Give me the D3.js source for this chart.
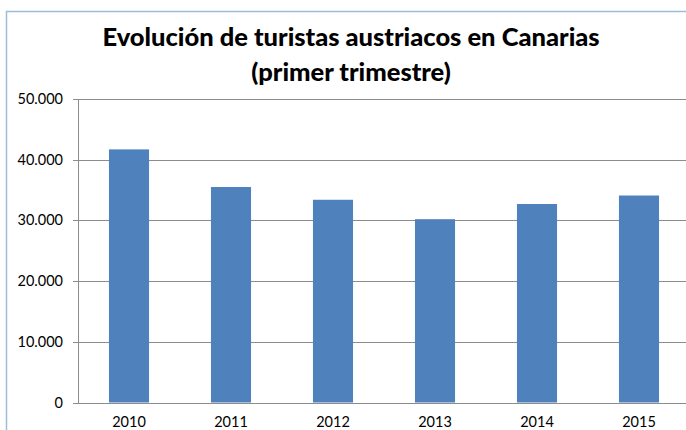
<!DOCTYPE html>
<html>
<head>
<meta charset="utf-8">
<script src="https://cdn.jsdelivr.net/npm/d3@7"></script>
<style>
  body { margin: 0; background: #fff; }
  svg { display: block; }
</style>
</head>
<body>
<svg id="chart" width="686" height="430"></svg>
<script>
// data
var years = ["2010", "2011", "2012", "2013", "2014", "2015"];
var tourists = [41700, 35500, 33400, 30200, 32700, 34100];
var yTicks = [0, 10000, 20000, 30000, 40000, 50000];
var titleLines = ["Evolución de turistas austriacos en Canarias", "(primer trimestre)"];

var svg = d3.select("#chart");
var font = "Lato, 'Liberation Sans', sans-serif";

// chart frame (only top and left edges are in view)
svg.append("rect")
    .attr("x", 6.5).attr("y", 11.5)
    .attr("width", 720).attr("height", 440)
    .attr("fill", "none")
    .attr("stroke", "#9fbbdc")
    .attr("stroke-width", 1.5);

var plot = { left: 78, right: 690, top: 99, bottom: 402.5 };

var x = d3.scaleBand()
    .domain(years)
    .range([plot.left, plot.right])
    .paddingInner(0.607)
    .paddingOuter(0.3035);

var y = d3.scaleLinear()
    .domain([0, 50000])
    .range([plot.bottom, plot.top]);

var fmt = function(d) { return d3.format(",")(d).replace(/,/g, "."); };

// gridlines
svg.append("g").selectAll("line.grid").data(yTicks).enter().append("line")
    .classed("grid", true)
    .attr("x1", plot.left - 5).attr("x2", 686)
    .attr("y1", function(d) { return Math.round(y(d)) + 0.5; })
    .attr("y2", function(d) { return Math.round(y(d)) + 0.5; })
    .attr("stroke", "#8c8c8c")
    .attr("stroke-width", 1);

// y axis line
svg.append("line")
    .attr("x1", plot.left + 0.5).attr("x2", plot.left + 0.5)
    .attr("y1", plot.top).attr("y2", plot.bottom + 0.5)
    .attr("stroke", "#8c8c8c");

// bars
svg.append("g").selectAll("rect.bar").data(tourists).enter().append("rect")
    .classed("bar", true)
    .attr("x", function(d, i) { return x(years[i]); })
    .attr("width", x.bandwidth())
    .attr("y", function(d) { return y(d); })
    .attr("height", function(d) { return y(0) - y(d); })
    .attr("fill", "#4f81bd");

// y labels
svg.append("g").selectAll("text.ylab").data(yTicks).enter().append("text")
    .classed("ylab", true)
    .attr("x", 63)
    .attr("y", function(d) { return y(d) + 5; })
    .attr("text-anchor", "end")
    .attr("font-family", font)
    .attr("font-size", 14.5)
    .attr("fill", "#000")
    .text(fmt);

// x labels
svg.append("g").selectAll("text.xlab").data(years).enter().append("text")
    .classed("xlab", true)
    .attr("x", function(d) { return x(d) + x.bandwidth() / 2; })
    .attr("y", 427)
    .attr("text-anchor", "middle")
    .attr("font-family", font)
    .attr("font-size", 14.5)
    .attr("fill", "#000")
    .text(function(d) { return d; });

// title
svg.append("g").selectAll("text.title").data(titleLines).enter().append("text")
    .classed("title", true)
    .attr("x", 351)
    .attr("y", function(d, i) { return 46 + i * 35; })
    .attr("text-anchor", "middle")
    .attr("font-family", font)
    .attr("font-weight", 900)
    .attr("font-size", 25.5)
    .attr("fill", "#000")
    .text(function(d) { return d; });
</script>
</body>
</html>
